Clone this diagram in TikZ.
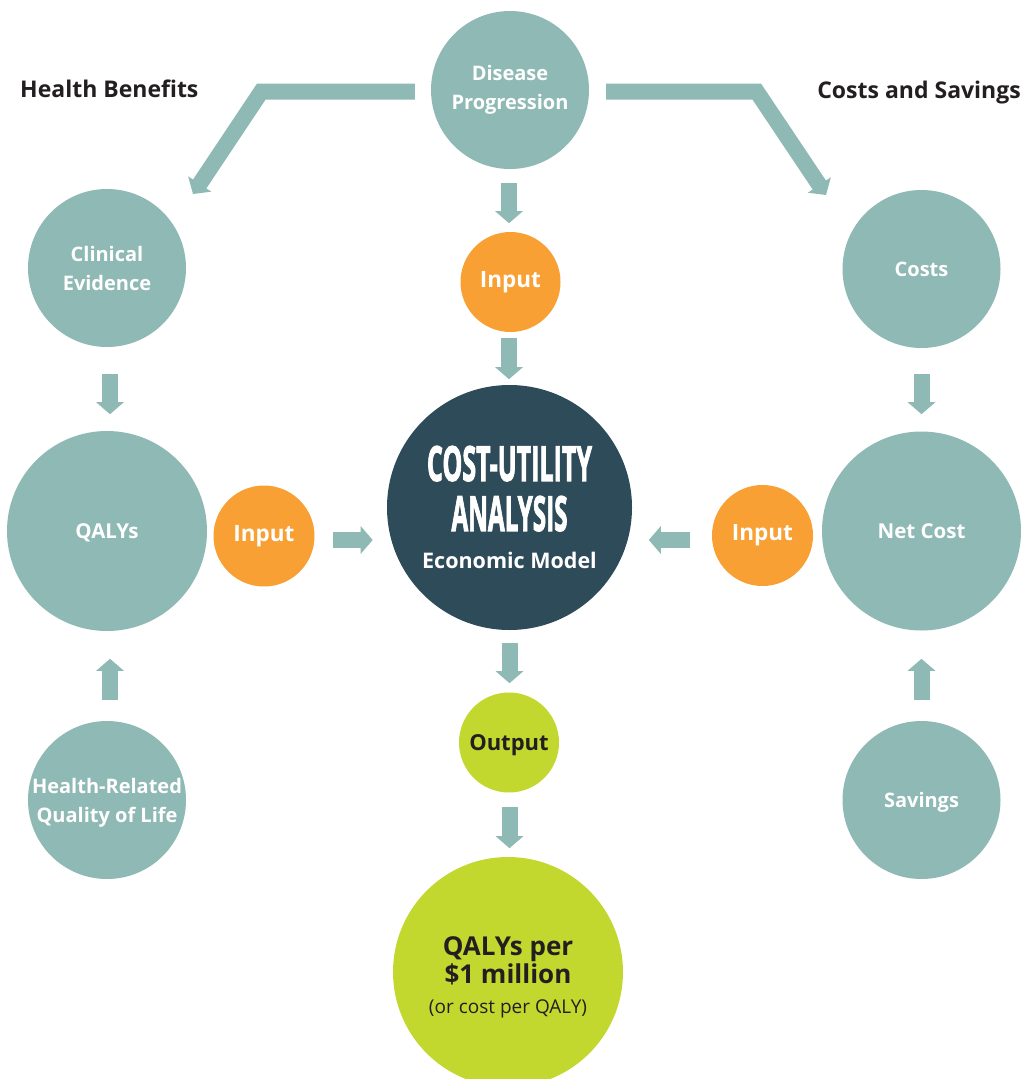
\documentclass[tikz,border=0pt]{standalone}
\usepackage{graphicx}
\usepackage{fontspec}
\setmainfont{Open Sans}
\newfontface\cuafont[FakeBold=2.5]{Open Sans Bold}
\usetikzlibrary{arrows.meta}
\definecolor{teal1}{HTML}{8FB9B4}
\definecolor{orng}{HTML}{F8A033}
\definecolor{navy}{HTML}{2E4B59}
\definecolor{lime}{HTML}{C3D82F}
\definecolor{ink}{HTML}{231F20}
\tikzset{
  bub/.style={circle, inner sep=0pt, align=center, text=white},
  tealb/.style={bub, fill=teal1, minimum size=158pt, font=\bfseries\fontsize{20}{29}\selectfont},
  bigb/.style={bub, fill=teal1, minimum size=199pt, font=\bfseries\fontsize{20.5}{29}\selectfont},
  inb/.style={bub, fill=orng, minimum size=101pt, font=\bfseries\fontsize{22.5}{28}\selectfont},
  blk/.style={teal1, line width=16pt, -{Triangle[width=27pt,length=12pt]}},
  ttl/.style={text=ink, inner sep=0pt, font=\bfseries\fontsize{23}{28}\selectfont}
}
\begin{document}
\begin{tikzpicture}[x=1pt,y=-1pt]
\useasboundingbox (0,0) rectangle (1025,1079);
\clip (0,0) rectangle (1025,1079);
\fill[white] (0,0) rectangle (1025,1079);

% titles
\node[ttl, anchor=base west] (hb) at (20,97) {Health Benefits};
\node[ttl, anchor=base east] (cs) at (1021,98) {Costs and Savings};

% circles
\node[tealb] (dp) at (510,90) {Disease\\Progression};
\node[tealb] (ce) at (107,268) {Clinical\\Evidence};
\node[tealb] (co) at (921.5,269) {Costs};
\node[bigb, minimum size=200pt, text depth=0pt] (ql) at (107,531) {QALYs};
\node[bigb] (nc) at (921.5,531) {Net Cost};
\node[tealb, text depth=0pt] (hq) at (107,800) {Health-Related\\Quality of Life};
\node[tealb, text depth=0pt] (sv) at (921.5,800) {Savings};
\node[inb] (inL) at (264,536) {Input};
\node[inb] (inR) at (762.5,535.5) {Input};
\node[inb, minimum size=100pt] (inT) at (510.5,282) {Input};
\node[bub, fill=navy, minimum size=245pt, font=\bfseries\fontsize{21.5}{50}\selectfont] (cua) at (509.5,507.5)
  {\resizebox{165pt}{35pt}{\cuafont COST-UTILITY}\\\resizebox{116pt}{35pt}{\cuafont ANALYSIS}\\[-12pt]Economic Model};
\node[bub, fill=lime, minimum size=100pt, text=ink, text depth=0pt, font=\bfseries\fontsize{22}{28}\selectfont] (out) at (509,742.5) {Output};
\node[bub, fill=lime, minimum size=230pt, text=ink, font=\fontsize{26}{28}\selectfont] (res) at (508,972)
  {\rule{0pt}{29pt}\bfseries\fontsize{26}{28}\selectfont QALYs per\\\bfseries\fontsize{26}{28}\selectfont \$1 million\\[2pt]\fontsize{19}{28}\selectfont (or cost per QALY)};

% straight arrows
\draw[blk] ([shift={(-1,14)}]dp.south) -- ++(0,40);
\draw[blk] ([shift={(-1.5,6)}]inT.south) -- ++(0,41);
\draw[blk] ([shift={(0,13)}]cua.south) -- ++(0,40);
\draw[blk] ([shift={(0.5,14.5)}]out.south) -- ++(0,41);
\draw[blk] ([shift={(3,27)}]ce.south) -- ++(0,40);
\draw[blk] ([shift={(3,-21)}]hq.north) -- ++(0,-41);
\draw[blk] ([shift={(0,26)}]co.south) -- ++(0,40);
\draw[blk] ([shift={(0,-21)}]sv.north) -- ++(0,-41);
\draw[blk] ([shift={(18,4)}]inL.east) -- ++(40,0);
\draw[blk] ([shift={(-22,4.5)}]inR.west) -- ++(-41,0);

% bent arrows
\draw[blk] ([shift={(-16,1.5)}]dp.west) -- ++(-153.5,0) -- ([shift={(86,-74)}]ce.center);
\draw[blk] ([shift={(17,1.5)}]dp.east) -- ++(150.5,0) -- ([shift={(-95.5,-74)}]co.center);
\end{tikzpicture}
\end{document}
